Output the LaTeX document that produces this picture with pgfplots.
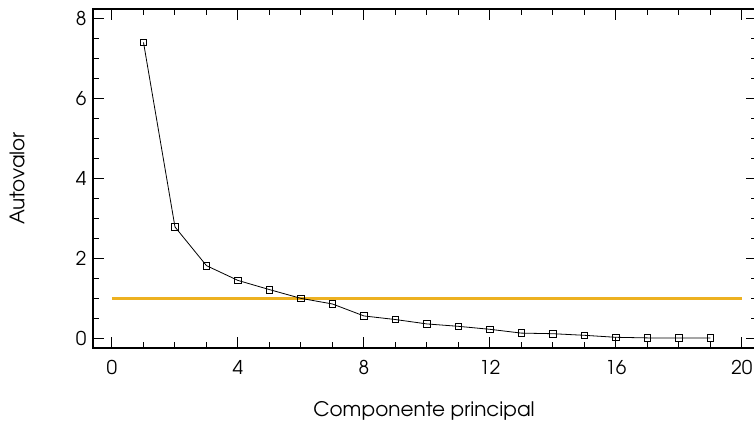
\documentclass[border=0pt]{standalone}
\usepackage{pgfplots}
\pgfplotsset{compat=1.18}
\usepackage{fontspec}
\setmainfont{TeX Gyre Adventor}
\definecolor{myyellow}{RGB}{237,177,32}
\begin{document}
\fontsize{19}{23}\selectfont
\begin{tikzpicture}
\begin{axis}[
  scale only axis,
  width=664pt, height=339pt,
  at={(0,0)}, anchor=south west,
  xmin=-0.603, xmax=20.48,
  ymin=-0.243, ymax=8.25,
  xtick={0,4,8,12,16,20},
  ytick={0,2,4,6,8},
  minor x tick num=3,
  minor y tick num=3,
  tick align=inside,
  major tick length=11pt,
  minor tick length=6pt,
  axis line style={line width=1.2pt},
  every tick/.style={black, line width=1pt},
  /pgf/number format/assume math mode=true,
  ticklabel style={font=\fontsize{19}{23}\selectfont},
  xticklabel style={yshift=-6pt},
  label style={font=\fontsize{20}{24}\selectfont},
  xlabel={Componente principal},
  ylabel={Autovalor},
  xlabel style={at={(axis description cs:0.5,0)}, anchor=center, yshift=-63pt, xshift=-1pt},
  ylabel style={at={(axis description cs:0,0.5)}, anchor=center, yshift=76pt},
  clip=false,
]
\addplot[myyellow, line width=2.6pt, forget plot] coordinates {(0,1) (20,1)};
\addplot[black, line width=0.8pt, mark=square, mark size=3.3pt, mark options={line width=0.8pt}] coordinates {
(1,7.415) (2,2.79) (3,1.82) (4,1.45) (5,1.22) (6,1.0) (7,0.86) (8,0.56) (9,0.47) (10,0.36)
(11,0.30) (12,0.225) (13,0.13) (14,0.115) (15,0.075) (16,0.025) (17,0.01) (18,0.01) (19,0.01)};
\end{axis}
\pgfresetboundingbox
\path[use as bounding box] (-93pt,-77pt) rectangle (661pt,348pt);
\end{tikzpicture}
\end{document}
